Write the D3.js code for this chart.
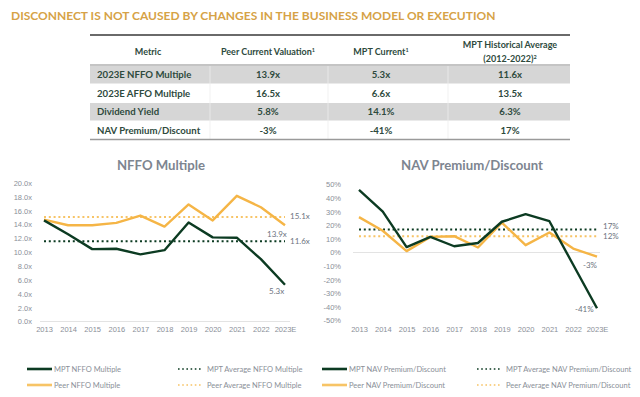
<!DOCTYPE html>
<html>
<head>
    <meta charset="utf-8">
    <title>Disconnect chart</title>
    <script src="https://d3js.org/d3.v7.min.js"></script>
    <style>
        body { margin: 0; background: #fff; }
        svg { font-family: Lato, "Noto Sans", sans-serif; }
        .tick text { fill: #8a8f98; font-size: 7.5px; }
        .cell { fill: #2e4a3d; font-size: 9.6px; font-weight: 700; }
        .hdr { fill: #2e4a3d; font-size: 9px; font-weight: 700; }
        .legend text { fill: #8a8f98; font-size: 7.5px; }
        .ptitle { fill: #7d8590; font-size: 13.2px; font-weight: 700; text-anchor: middle; }
        .endlab { fill: #6d7480; font-size: 8px; }
    </style>
</head>
<body>
<svg width="640" height="397"></svg>
<script>
    // table
    var headers = ["Metric", "Peer Current Valuation", "MPT Current", "MPT Historical Average"];
    var metrics = ["2023E NFFO Multiple", "2023E AFFO Multiple", "Dividend Yield", "NAV Premium/Discount"];
    var peerCurrent = ["13.9x", "16.5x", "5.8%", "-3%"];
    var mptCurrent = ["5.3x", "6.6x", "14.1%", "-41%"];
    var mptHistorical = ["11.6x", "13.5x", "6.3%", "17%"];

    // charts
    var years = ["2013", "2014", "2015", "2016", "2017", "2018", "2019", "2020", "2021", "2022", "2023E"];
    var mptNffo = [14.6, 12.6, 10.45, 10.5, 9.7, 10.3, 14.3, 12.15, 12.1, 9.0, 5.3];
    var peerNffo = [14.7, 13.9, 13.9, 14.25, 15.3, 13.7, 16.9, 14.6, 18.15, 16.5, 13.9];
    var mptNffoAvg = 11.6, peerNffoAvg = 15.1;
    var mptNav = [46, 30, 4, 11.5, 4.6, 7, 22.6, 28.2, 23, -9, -41];
    var peerNav = [26, 16, 1, 11.5, 12, 3.7, 22, 5.4, 14.7, 2.9, -3];
    var mptNavAvg = 17, peerNavAvg = 12;

    var dark = "#0c3b22", gold = "#f5b546", goldLight = "#f7c466";

    var svg = d3.select("svg");

    svg.append("text")
        .attr("x", 11).attr("y", 20)
        .attr("fill", "#d6a246")
        .style("font-size", "12px").style("font-weight", 700)
        .text("DISCONNECT IS NOT CAUSED BY CHANGES IN THE BUSINESS MODEL OR EXECUTION");

    // ---- table ----
    var tx0 = 90, tx1 = 570;
    var colX = [97, 268, 381, 510];
    var rowY = d3.scaleBand().domain(d3.range(metrics.length)).range([65, 139]);

    var tbl = svg.append("g");
    tbl.selectAll("rect.row")
        .data(d3.range(metrics.length))
        .enter().append("rect")
        .attr("x", tx0).attr("width", tx1 - tx0)
        .attr("y", function (d) { return rowY(d) + 1; })
        .attr("height", rowY.bandwidth() - 1)
        .attr("fill", function (d) { return d % 2 === 0 ? "#d6d6d6" : "#fff"; });

    [210, 328, 448].forEach(function (x) {
        tbl.append("line").attr("x1", x).attr("x2", x).attr("y1", 66).attr("y2", 139)
            .attr("stroke", "#eeeeee").attr("stroke-width", 0.8);
    });
    tbl.append("line").attr("x1", tx0).attr("x2", tx1).attr("y1", 35).attr("y2", 35)
        .attr("stroke", "#6a6a6a").attr("stroke-width", 1.8);
    tbl.append("line").attr("x1", tx0).attr("x2", tx1).attr("y1", 65).attr("y2", 65)
        .attr("stroke", "#8a8a8a").attr("stroke-width", 1.2);
    tbl.append("line").attr("x1", tx0).attr("x2", tx1).attr("y1", 139.5).attr("y2", 139.5)
        .attr("stroke", "#9a9a9a").attr("stroke-width", 1.4);

    function sup(t, s) { t.append("tspan").attr("dy", -3.5).style("font-size", "5.5px").text(s); }

    tbl.append("text").attr("class", "hdr").attr("x", 148).attr("y", 55).attr("text-anchor", "middle").text(headers[0]);
    var h1 = tbl.append("text").attr("class", "hdr").attr("x", 268).attr("y", 55).attr("text-anchor", "middle").text(headers[1]);
    sup(h1, "1");
    var h2 = tbl.append("text").attr("class", "hdr").attr("x", 381).attr("y", 55).attr("text-anchor", "middle").text(headers[2]);
    sup(h2, "1");
    tbl.append("text").attr("class", "hdr").attr("x", 510).attr("y", 48).attr("text-anchor", "middle").text(headers[3]);
    var h3 = tbl.append("text").attr("class", "hdr").attr("x", 510).attr("y", 62).attr("text-anchor", "middle").text("(2012-2022)");
    sup(h3, "2");

    var cols = [metrics, peerCurrent, mptCurrent, mptHistorical];
    cols.forEach(function (arr, ci) {
        tbl.selectAll("text.c" + ci)
            .data(arr)
            .enter().append("text")
            .attr("class", "cell c" + ci)
            .attr("x", colX[ci])
            .attr("y", function (d, i) { return rowY(i) + rowY.bandwidth() / 2 + 4; })
            .attr("text-anchor", ci === 0 ? "start" : "middle")
            .text(function (d) { return d; });
    });

    // ---- chart helper ----
    function drawChart(opt) {
        var g = svg.append("g");
        var x = d3.scalePoint().domain(years).range(opt.xr);
        var y = d3.scaleLinear().domain(opt.yd).range(opt.yr);

        g.append("text").attr("class", "ptitle").attr("x", opt.tx).attr("y", 170).text(opt.title);

        g.append("line")
            .attr("x1", opt.base[0]).attr("x2", opt.base[1])
            .attr("y1", y(opt.baseVal)).attr("y2", y(opt.baseVal))
            .attr("stroke", "#e3e3e3").attr("stroke-width", 1);

        var ya = g.append("g").attr("transform", "translate(" + opt.yx + ",0)")
            .call(d3.axisLeft(y).tickValues(opt.ticks).tickSize(0).tickPadding(0).tickFormat(opt.fmt));
        ya.select(".domain").remove();

        var xa = g.append("g").attr("transform", "translate(0,327)")
            .call(d3.axisBottom(x).tickSize(0).tickPadding(0));
        xa.select(".domain").remove();

        // averages
        [[opt.mptAvg, dark], [opt.peerAvg, goldLight]].forEach(function (a) {
            g.append("line")
                .attr("x1", x(years[0])).attr("x2", x(years[years.length - 1]))
                .attr("y1", y(a[0])).attr("y2", y(a[0]))
                .attr("stroke", a[1]).attr("stroke-width", 2)
                .attr("stroke-dasharray", "2,2.8");
        });

        var line = d3.line()
            .x(function (d, i) { return x(years[i]); })
            .y(function (d) { return y(d); });

        g.append("path").datum(opt.peer).attr("d", line)
            .attr("fill", "none").attr("stroke", gold).attr("stroke-width", 2.4)
            .attr("stroke-linejoin", "round");
        g.append("path").datum(opt.mpt).attr("d", line)
            .attr("fill", "none").attr("stroke", dark).attr("stroke-width", 2.4)
            .attr("stroke-linejoin", "round");

        opt.labels.forEach(function (l) {
            g.append("text").attr("class", "endlab")
                .attr("x", l.x).attr("y", y(l.v) + l.dy)
                .text(l.t);
        });
        return { x: x, y: y };
    }

    drawChart({
        title: "NFFO Multiple", tx: 161,
        xr: [44, 285], yd: [0, 20], yr: [321.5, 183],
        yx: 32, ticks: d3.range(0, 21, 2),
        fmt: function (d) { return d.toFixed(1) + "x"; },
        base: [40, 290], baseVal: 0,
        mpt: mptNffo, peer: peerNffo, mptAvg: mptNffoAvg, peerAvg: peerNffoAvg,
        labels: [
            { x: 290, v: peerNffoAvg, dy: 2.5, t: peerNffoAvg.toFixed(1) + "x" },
            { x: 290, v: mptNffoAvg, dy: 3, t: mptNffoAvg.toFixed(1) + "x" },
            { x: 267, v: peerNffo[10], dy: 12, t: peerNffo[10].toFixed(1) + "x" },
            { x: 269, v: mptNffo[10], dy: 9, t: mptNffo[10].toFixed(1) + "x" }
        ]
    });

    drawChart({
        title: "NAV Premium/Discount", tx: 472,
        xr: [359, 597], yd: [-50, 50], yr: [320.5, 184.5],
        yx: 341, ticks: d3.range(-50, 51, 10),
        fmt: function (d) { return d + "%"; },
        base: [353, 600], baseVal: 0,
        mpt: mptNav, peer: peerNav, mptAvg: mptNavAvg, peerAvg: peerNavAvg,
        labels: [
            { x: 603, v: mptNavAvg, dy: 0, t: mptNavAvg + "%" },
            { x: 603, v: peerNavAvg, dy: 3, t: peerNavAvg + "%" },
            { x: 583, v: peerNav[10], dy: 11, t: peerNav[10] + "%" },
            { x: 575, v: mptNav[10], dy: 4, t: mptNav[10] + "%" }
        ]
    });

    // ---- legend ----
    var legendItems = [
        { x: 27, y: 369, c: dark, dot: false, t: "MPT NFFO Multiple" },
        { x: 27, y: 385, c: goldLight, dot: false, t: "Peer NFFO Multiple" },
        { x: 178, y: 369, c: dark, dot: true, t: "MPT Average NFFO Multiple" },
        { x: 178, y: 385, c: goldLight, dot: true, t: "Peer Average NFFO Multiple" },
        { x: 322, y: 369, c: dark, dot: false, t: "MPT NAV Premium/Discount" },
        { x: 322, y: 385, c: goldLight, dot: false, t: "Peer NAV Premium/Discount" },
        { x: 477, y: 369, c: dark, dot: true, t: "MPT Average NAV Premium/Discount" },
        { x: 477, y: 385, c: goldLight, dot: true, t: "Peer Average NAV Premium/Discount" }
    ];
    var lg = svg.append("g").attr("class", "legend")
        .selectAll("g").data(legendItems).enter().append("g")
        .attr("transform", function (d) { return "translate(" + d.x + "," + d.y + ")"; });
    lg.append("line")
        .attr("x1", 0).attr("x2", function (d) { return d.dot ? 24 : 25; })
        .attr("y1", 0).attr("y2", 0)
        .attr("stroke", function (d) { return d.c; })
        .attr("stroke-width", function (d) { return d.dot ? 1.6 : 2.6; })
        .attr("stroke-dasharray", function (d) { return d.dot ? "1.6,2.6" : null; });
    lg.append("text")
        .attr("x", function (d) { return d.dot ? 29 : 27; })
        .attr("y", 2.7)
        .text(function (d) { return d.t; });
</script>
</body>
</html>
